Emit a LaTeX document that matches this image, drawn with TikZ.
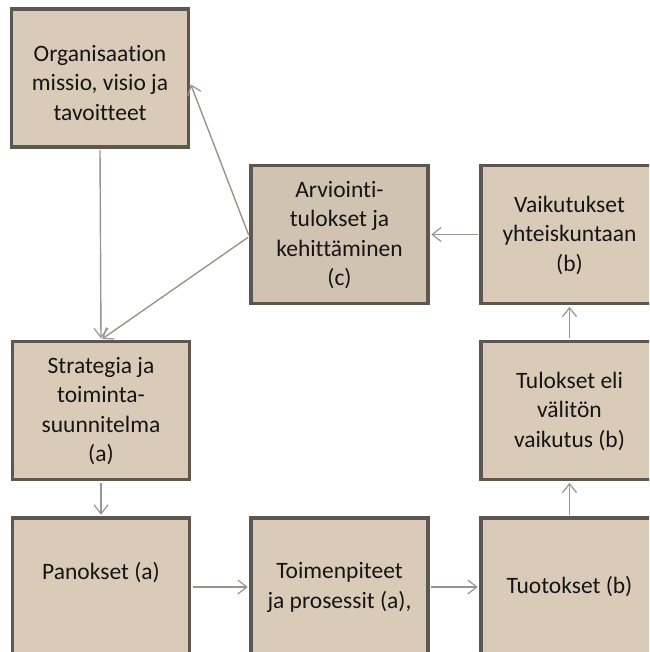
\documentclass[tikz,border=0pt]{standalone}
\usepackage{fontspec}
\setmainfont[Ligatures={NoCommon}]{Carlito}
\usetikzlibrary{arrows.meta}
\definecolor{boxfill}{HTML}{DACBB9}
\definecolor{boxfilldark}{HTML}{D1C3B2}
\definecolor{boxline}{HTML}{5E5750}
\definecolor{arrline}{HTML}{9A948E}
\definecolor{txtcol}{HTML}{151515}
\tikzset{
  box/.style={draw=boxline, fill=boxfill, line width=3.5pt, minimum width=177pt, minimum height=138pt, inner sep=0pt},
  boxdark/.style={box, fill=boxfilldark},
  txt/.style={align=center, text=txtcol, font=\fontsize{23.5}{29.5}\selectfont, inner sep=0pt},
  arr/.style={draw=arrline, line width=1.4pt, -{Straight Barb[length=9pt,width=14pt,line width=1.2pt]}, shorten >=1.5pt, shorten <=1.5pt}
}
\begin{document}
\begin{tikzpicture}[x=1pt,y=-1pt]
\useasboundingbox (0,0) rectangle (649,652);
\clip (0,0) rectangle (649,652);
% boxes
\node[box] (org) at (100,78) {};
\node[boxdark] (arv) at (339.5,234.5) {};
\node[box] (vai) at (569.5,234.5) {};
\node[box] (str) at (101,410.5) {};
\node[box] (tul) at (569.5,410.5) {};
\node[box] (pan) at (101,587) {};
\node[box] (toi) at (339.5,587) {};
\node[box] (tuo) at (569.5,587) {};
% texts
\node[txt] (torg) at (100,83) {Organisaation\\missio, visio ja\\tavoitteet};
\node[txt] (tarv) at (339.5,235) {Arviointi-\\tulokset ja\\kehittäminen\\(c)};
\node[txt] (tvai) at (569.5,235) {Vaikutukset\\yhteiskuntaan\\(b)};
\node[txt] (tstr) at (101,411) {Strategia ja\\toiminta-\\suunnitelma\\(a)};
\node[txt] (ttul) at (569.5,411) {Tulokset eli\\välitön\\vaikutus (b)};
\node[txt] (tpan) at (101,573) {Panokset (a)};
\node[txt] (ttoi) at (339.5,587.5) {Toimenpiteet\\ja prosessit (a),};
\node[txt] (ttuo) at (569.5,587) {Tuotokset (b)};
% connectors
\draw[arr] (org.south) -- (str.north);
\draw[arr] ([yshift=-2pt]arv.west) -- ([yshift=-5pt]org.east);
\draw[arr] ([yshift=-2pt]arv.west) -- (str.north);
\draw[arr] (vai.west) -- (arv.east);
\draw[arr] (tul.north) -- (vai.south);
\draw[arr] (tuo.north) -- (tul.south);
\draw[arr] (str.south) -- (pan.north);
\draw[arr] (pan.east) -- (toi.west);
\draw[arr] (toi.east) -- (tuo.west);
\end{tikzpicture}
\end{document}
